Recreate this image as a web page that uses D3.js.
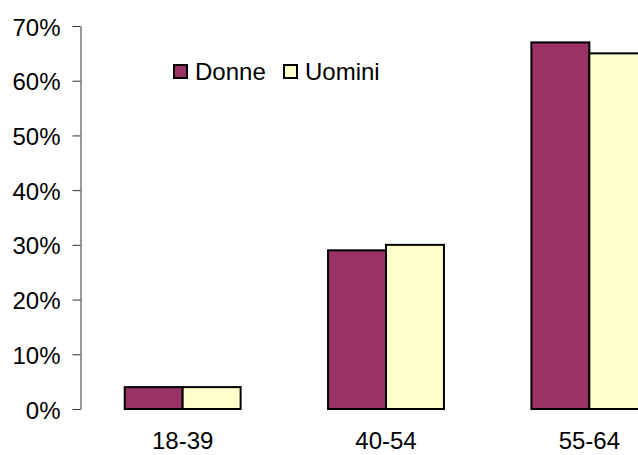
<!DOCTYPE html>
<html>
<head>
<meta charset="utf-8">
<script src="https://cdn.jsdelivr.net/npm/d3@7"></script>
<style>
    body { margin: 0; background: #fff; }
    text { font-family: "Liberation Sans", Arial, sans-serif; fill: #000; }
</style>
</head>
<body>
<div id="viewportContainer"></div>
<script>
/* --- データ --- */
const categories = ["18-39", "40-54", "55-64"];
const seriesNames = ["Donne", "Uomini"];
const donneValues = [4, 29, 67];
const uominiValues = [4, 30, 65];
const yTickValues = [0, 10, 20, 30, 40, 50, 60, 70];

/* --- ビューポート --- */
const viewport = {width: 638, height: 455};
const plot = {left: 81, right: 691, top: 26, bottom: 409};
const fontSize = 24;

const colorScale = d3.scaleOrdinal().domain(seriesNames).range(["#993366", "#FFFFCC"]);

const tableData = categories.map((c, i) => ({
    category: c,
    values: [
        {name: "Donne", value: donneValues[i]},
        {name: "Uomini", value: uominiValues[i]}
    ]
}));

/*--- SVG作成 ---*/
const svg = d3.select("#viewportContainer")
    .append("svg")
    .attr("width", viewport.width)
    .attr("height", viewport.height);

/*--- スケール ---*/
const xScale = d3.scaleBand()
    .domain(categories)
    .range([plot.left, plot.right])
    .paddingInner(0.43)
    .paddingOuter(0.215);

const xInner = d3.scaleBand()
    .domain(seriesNames)
    .range([0, xScale.bandwidth()]);

const yScale = d3.scaleLinear()
    .domain([0, 70])
    .range([plot.bottom, plot.top]);

/*--- 棒 ---*/
const groups = svg.append("g").selectAll("g")
    .data(tableData)
    .enter()
    .append("g")
    .attr("transform", d => "translate(" + xScale(d.category) + ",0)");

groups.selectAll("rect")
    .data(d => d.values)
    .enter()
    .append("rect")
    .attr("x", d => xInner(d.name))
    .attr("y", d => yScale(d.value))
    .attr("width", xInner.bandwidth())
    .attr("height", d => yScale(0) - yScale(d.value))
    .attr("fill", d => colorScale(d.name))
    .attr("stroke", "#000")
    .attr("stroke-width", 2);

/*--- Y軸 ---*/
const yAxis = d3.axisLeft(yScale)
    .tickValues(yTickValues)
    .tickFormat(d => d + "%")
    .tickSize(8)
    .tickPadding(12)
    .tickSizeOuter(0);

const yAxisContainer = svg.append("g")
    .attr("transform", "translate(" + (plot.left - 0.5) + ",0)")
    .call(yAxis);

yAxisContainer.select(".domain").attr("stroke", "#333");
yAxisContainer.selectAll(".tick line").attr("stroke", "#333");
yAxisContainer.selectAll(".tick text")
    .attr("font-size", fontSize)
    .attr("font-family", "Liberation Sans, Arial, sans-serif")
    .attr("dy", "0.38em")
    .attr("fill", "#000");

/*--- X軸ラベル ---*/
svg.append("g").selectAll("text")
    .data(categories)
    .enter()
    .append("text")
    .attr("x", d => xScale(d) + xScale.bandwidth() / 2)
    .attr("y", 449)
    .attr("text-anchor", "middle")
    .attr("font-size", fontSize)
    .text(d => d);

/*--- 凡例 ---*/
const legendX = [173, 283];
const legend = svg.append("g").selectAll("g")
    .data(seriesNames)
    .enter()
    .append("g")
    .attr("transform", (d, i) => "translate(" + legendX[i] + ",64)");

legend.append("rect")
    .attr("x", 1)
    .attr("y", 1)
    .attr("width", 13)
    .attr("height", 13)
    .attr("fill", d => colorScale(d))
    .attr("stroke", "#000")
    .attr("stroke-width", 2);

legend.append("text")
    .attr("x", 22)
    .attr("y", 16)
    .attr("font-size", fontSize)
    .text(d => d);
</script>
</body>
</html>
